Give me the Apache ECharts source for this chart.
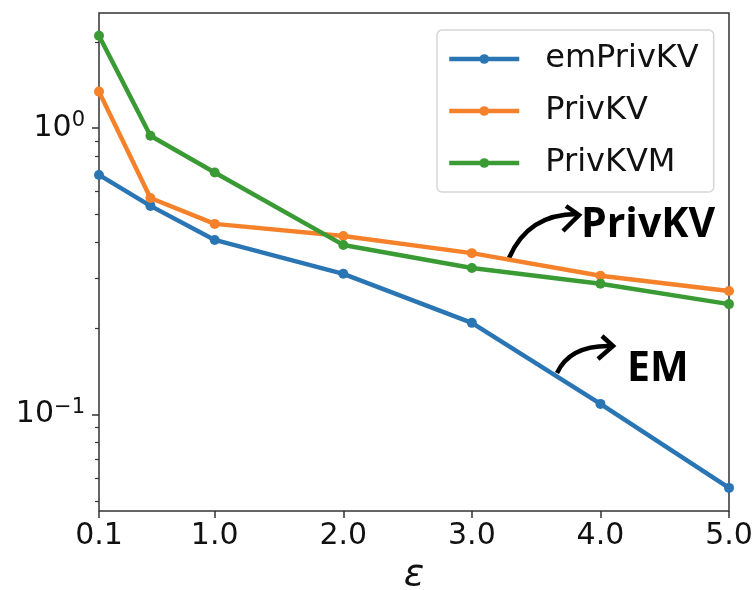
<!DOCTYPE html>
<html>
<head>
<meta charset="UTF-8">
<title></title>
<script type="text/javascript" src="https://cdn.jsdelivr.net/npm/echarts@6/dist/echarts.min.js"></script>
<style type="text/css">
	* { padding: 0; margin: 0; }
	#main { width: 756px; height: 590px; }
</style>
</head>
<body>
<div id="main"></div>
<script type="text/javascript">
	// epsilon values and errors
	var epsilons = [0.1, 0.5, 1.0, 2.0, 3.0, 4.0, 5.0];
	var emPrivKV = [0.686, 0.535, 0.407, 0.310, 0.209, 0.109, 0.0555];
	var privKV = [1.34, 0.570, 0.463, 0.420, 0.366, 0.305, 0.270];
	var privKVM = [2.10, 0.940, 0.700, 0.391, 0.325, 0.286, 0.243];
	var xTicks = [0.1, 1, 2, 3, 4, 5];
	var yMajor = [0.1, 1];
	var yMinor = [0.05, 0.06, 0.07, 0.08, 0.09, 0.2, 0.3, 0.4, 0.5, 0.6, 0.7, 0.8, 0.9, 2];

	var colors = ['#2a75b3', '#f5822a', '#3a9b35'];
	var font = 'DejaVu Sans';

	function pairs(ys) {
		return epsilons.map(function(x, i) { return [x, ys[i]]; });
	}

	function line(name, ys) {
		return {
			name: name,
			type: 'line',
			data: pairs(ys),
			symbol: 'circle',
			symbolSize: 10,
			lineStyle: { width: 4.5 },
			emphasis: { disabled: true }
		};
	}

	var chart = echarts.init(document.getElementById('main'));

	var yMin = 0.0461, yMax = 2.52;

	chart.setOption({
		animation: false,
		color: colors,
		grid: {
			left: 99, right: 27, top: 13, bottom: 79,
			outerBoundsMode: 'none',
			show: true, borderColor: '#333', borderWidth: 1.5
		},
		legend: {
			orient: 'vertical',
			left: 437, top: 30,
			padding: [13, 15, 13, 10],
			itemWidth: 70, itemHeight: 12, itemGap: 20,
			borderColor: '#d6d6d6', borderWidth: 1.5, borderRadius: 5,
			backgroundColor: '#fff',
			lineStyle: { width: 4.5 },
			textStyle: { fontFamily: font, fontSize: 32, color: '#111', lineHeight: 28, padding: [0, 0, 0, 21] },
			data: ['emPrivKV', 'PrivKV', 'PrivKVM']
		},
		xAxis: {
			type: 'value',
			min: 0.1, max: 5,
			splitLine: { show: false },
			axisLine: { show: false },
			axisTick: { customValues: xTicks, length: 7, lineStyle: { color: '#333', width: 1.5 } },
			axisLabel: {
				customValues: xTicks,
				margin: 10,
				fontFamily: font, fontSize: 30, color: '#111',
				formatter: function(v) { return v.toFixed(1); }
			},
			name: 'ε',
			nameLocation: 'middle',
			nameGap: 42,
			nameTextStyle: { fontFamily: font, fontSize: 38, fontStyle: 'italic', color: '#111' }
		},
		yAxis: [{
			type: 'log',
			min: yMin, max: yMax,
			splitLine: { show: false },
			axisLine: { show: false },
			axisTick: { customValues: yMajor, length: 7, lineStyle: { color: '#333', width: 1.5 } },
			axisLabel: {
				customValues: yMajor,
				margin: 14,
				formatter: function(v) {
					return v > 0.5 ? '{b|10}{s|0}' : '{b|10}{s|−1}';
				},
				rich: {
					b: { fontFamily: font, fontSize: 30, color: '#111' },
					s: { fontFamily: font, fontSize: 21, color: '#111', padding: [0, 0, 14, 0] }
				}
			}
		}, {
			type: 'log',
			position: 'left',
			min: yMin, max: yMax,
			splitLine: { show: false },
			axisLine: { show: false },
			axisTick: { customValues: yMinor, length: 4, lineStyle: { color: '#333', width: 1.2 } },
			axisLabel: { show: false }
		}],
		series: [
			line('emPrivKV', emPrivKV),
			line('PrivKV', privKV),
			line('PrivKVM', privKVM)
		],
		graphic: [
			{
				type: 'text', left: 581, top: 205,
				style: { text: 'PrivKV', font: 'bold 41px "Open Sans"', fill: '#000' }
			},
			{
				type: 'text', left: 627, top: 349,
				style: { text: 'EM', font: 'bold 41px "Open Sans"', fill: '#000' }
			},
			{
				type: 'bezierCurve',
				shape: { x1: 509, y1: 258, cpx1: 528, cpy1: 214, x2: 577, y2: 214 },
				style: { stroke: '#000', lineWidth: 4.5, fill: null }
			},
			{
				type: 'polyline',
				shape: { points: [[566, 206], [579, 215], [563, 231]] },
				style: { stroke: '#000', lineWidth: 4.5, fill: null }
			},
			{
				type: 'bezierCurve',
				shape: { x1: 557, y1: 373, cpx1: 570, cpy1: 345, x2: 611, y2: 346 },
				style: { stroke: '#000', lineWidth: 4.5, fill: null }
			},
			{
				type: 'polyline',
				shape: { points: [[602, 336], [613, 346], [598, 359]] },
				style: { stroke: '#000', lineWidth: 4.5, fill: null }
			}
		]
	});
</script>
</body>
</html>
